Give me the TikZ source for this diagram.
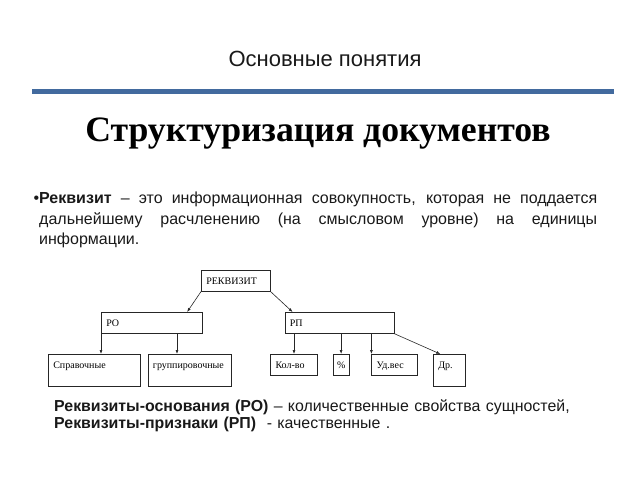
\documentclass[tikz,border=0pt]{standalone}
\usepackage{fontspec}
\setmainfont{Liberation Sans}
\newfontfamily\timesfont{Liberation Serif}
\usepackage{tikz}
\usetikzlibrary{positioning, arrows.meta}
\definecolor{barblue}{RGB}{66,106,158}

\begin{document}
\begin{tikzpicture}[
x=1pt, y=-1pt,
mybox/.style={rectangle,
  draw=black!85,
  line width=0.6pt,
  anchor=north west,
  align=left,
  font=\timesfont\fontsize{10}{12}\selectfont,
  inner xsep=5pt,
  inner ysep=0pt,
  text height=14pt,
  text depth=7pt
},
mytallbox/.style={mybox,
  text depth=18pt
},
mytext/.style={inner sep=0pt,
  anchor=base west,
  text=black!90
},
myarrow/.style={-{Latex[length=4pt,width=3pt]},
  draw=black!85,
  line width=0.6pt
}
]
\useasboundingbox (0,0) rectangle (640,480);

\node[mytext, anchor=base, font=\fontsize{22}{26}\selectfont] (title) at (325,66)
    {Основные понятия};
\coordinate (barl) at (32,91);
\coordinate (barr) at (614,91);
\draw[barblue, line width=5pt] (barl) -- (barr);
\node[mytext, anchor=base, font=\timesfont\bfseries\fontsize{35.7}{40}\selectfont, text=black] (head) at (318,141)
    {Структуризация документов};

\node[mytext, text width=558pt, align=justify, font=\fontsize{16}{20.5}\selectfont] (def) at (39,203.5)
    {\llap{•}\textbf{Реквизит} – это информационная совокупность, которая не поддается\linebreak
     дальнейшему расчленению (на смысловом уровне) на единицы\linebreak
     информации.};

\node[mybox, text width=59pt] (rekv) at (201,270)
    {РЕКВИЗИТ};
\node[mybox, text width=91pt] (ro) at (101,312)
    {РО};
\node[mybox, text width=99pt, right=82pt of ro.north east, anchor=north west] (rp)
    {РП};

\node[mytallbox, text width=82pt] (sprav) at (48,354)
    {Справочные};
\node[mytallbox, text width=73pt, right=7pt of sprav.north east, anchor=north west] (grup)
    {группировочные};
\node[mybox, text width=37pt, right=39pt of grup.north east, anchor=north west] (kol)
    {Кол-во};
\node[mybox, text width=8pt, inner xsep=4pt, align=center, right=15pt of kol.north east, anchor=north west] (pct)
    {\%};
\node[mybox, text width=36pt, right=22pt of pct.north east, anchor=north west] (ud)
    {Уд.вес};
\node[mytallbox, text width=22pt, right=15pt of ud.north east, anchor=north west] (dr)
    {Др.};

\coordinate (rogrp) at ([xshift=76pt]ro.south west);

\draw[myarrow] (rekv.south west) -- (ro.17);
\draw[myarrow] (rekv.south east) -- (rp.167);
\draw[myarrow] (ro.south west) -- (ro.south west |- sprav.north);
\draw[myarrow] (rogrp) -- (rogrp |- grup.north);
\draw[myarrow] (kol.north |- rp.south) -- (kol.north);
\draw[myarrow] (pct.north |- rp.south) -- (pct.north);
\draw[myarrow] (ud.north west |- rp.south) -- (ud.north west);
\draw[myarrow] (rp.south east) -- (dr.119);

\node[mytext, text width=560pt, align=left, font=\fontsize{15.9}{17}\selectfont] (notes) at (54,411)
    {\textbf{Реквизиты-основания (РО)} – количественные свойства сущностей,\\
     \textbf{Реквизиты-признаки (РП)}\ \ - качественные .};
\end{tikzpicture}
\end{document}
